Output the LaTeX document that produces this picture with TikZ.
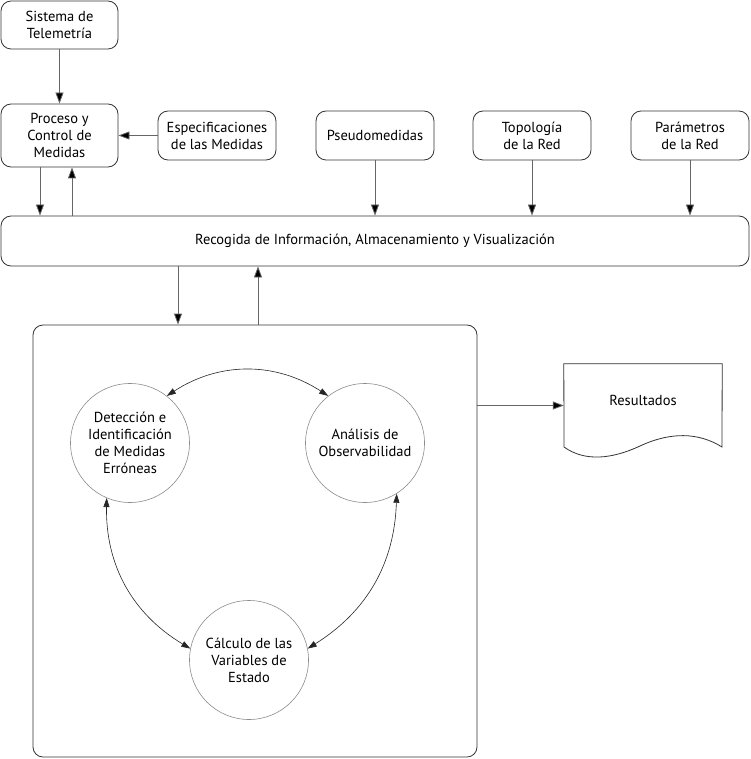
\documentclass[tikz,border=0pt]{standalone}
\usepackage{fontspec}
\setmainfont{PT Sans}
\usetikzlibrary{arrows.meta,positioning}
\begin{document}
\begin{tikzpicture}[x=1pt,y=-1pt,
  font=\fontsize{14.5}{17}\selectfont,
  box/.style={draw=black!80, line width=0.8pt, rounded corners=10pt, align=center, inner sep=0pt},
  circ/.style={draw=black!45, line width=0.6pt, circle, minimum size=119pt, align=center, inner sep=0pt},
  conn/.style={draw=black!60, line width=0.8pt, -{Triangle[length=11pt,width=8pt,fill=black]}},
  arc/.style={draw=black!85, line width=0.6pt, {Triangle[length=9pt,width=6pt]}-{Triangle[length=9pt,width=6pt]}}]
\useasboundingbox (0,0) rectangle (750,759);
% boxes
\node[box, minimum width=117pt, minimum height=48pt] (tel) at (59.5,25) {Sistema de\\Telemetría};
\node[box, minimum width=117pt, minimum height=63pt] (proc) at (59.5,135.5) {Proceso y\\Control de\\Medidas};
\node[box, minimum width=118pt, minimum height=49pt] (esp) at (217,135.5) {Especificaciones\\de las Medidas};
\node[box, minimum width=118pt, minimum height=49pt] (pseudo) at (375,135.5) {Pseudomedidas};
\node[box, minimum width=118pt, minimum height=49pt] (topo) at (532,135.5) {Topología\\de la Red};
\node[box, minimum width=118pt, minimum height=49pt] (param) at (690,135.5) {Parámetros\\de la Red};
\node[box, minimum width=748pt, minimum height=50pt] (rec) at (375,241) {Recogida de Información, Almacenamiento y Visualización};
\node[box, minimum width=444pt, minimum height=432pt] (big) at (255,541) {};
% circles
\node[circ] (det) at (130,443) {Detección e\\Identificación\\de Medidas\\Erróneas};
\node[circ] (ana) at (365,443) {Análisis de\\Observabilidad};
\node[circ] (cal) at (249,660) {Cálculo de las\\Variables de\\Estado};
% document shape
\node[minimum width=158pt, minimum height=83pt, inner sep=0pt] (res) at (643,405.5) {};
\node at (643,400) {Resultados};
\draw[black!80, line width=0.8pt] (res.north west) -- (res.north east) -- (722,447)
  .. controls (698,432) and (670,432) .. (640,446)
  .. controls (612,459) and (585,462) .. (564,447) -- cycle;
% connectors
\draw[conn] (tel.south) -- (proc.north);
\draw[conn] (esp.west) -- (proc.east);
\draw[conn] (proc.south -| 40,0) -- (rec.north -| 40,0);
\draw[conn] (rec.north -| 72,0) -- (proc.south -| 72,0);
\draw[conn] (pseudo.south) -- (rec.north -| pseudo.south);
\draw[conn] (topo.south) -- (rec.north -| topo.south);
\draw[conn] (param.south) -- (rec.north -| param.south);
\draw[conn] (rec.south -| 178,0) -- (big.north -| 178,0);
\draw[conn] (big.north -| 258,0) -- (rec.south -| 258,0);
\draw[conn] (big.east |- res.west) -- (res.west);
% arcs
\draw[arc] (det.52) to[bend left=33] (ana.128);
\draw[arc] (det.247) to[bend right=30] (cal.169);
\draw[arc] (ana.302) to[bend left=28] (cal.11);
\end{tikzpicture}
\end{document}
